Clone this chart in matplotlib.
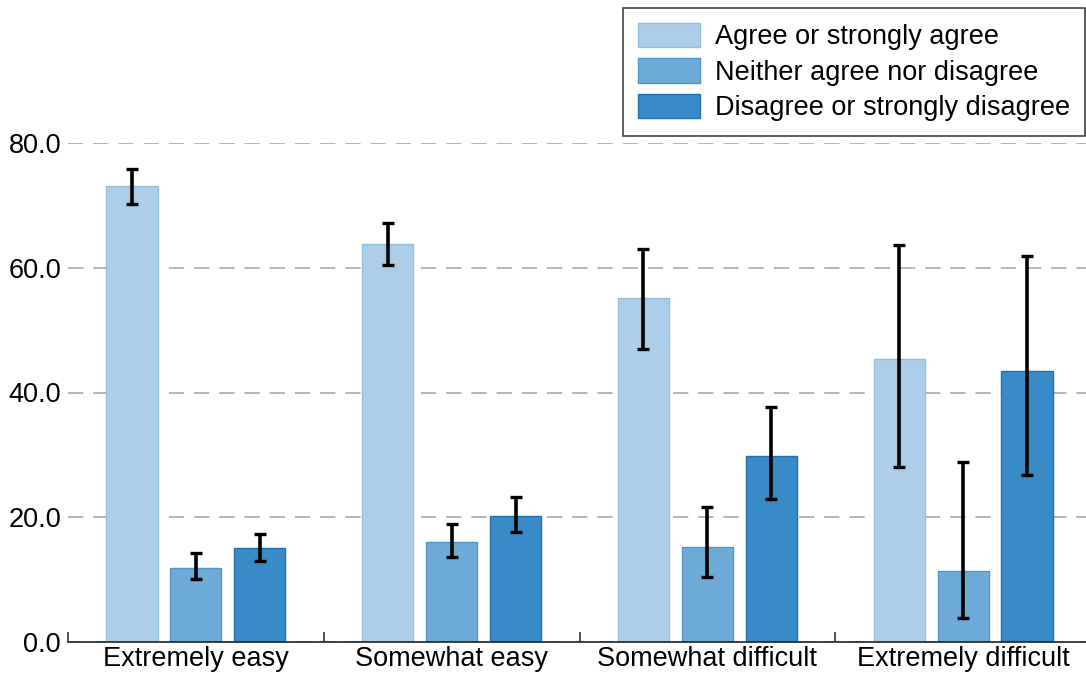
import numpy as np
import matplotlib.pyplot as plt

plt.rcParams['font.family'] = ['Liberation Sans', 'DejaVu Sans']

categories = ['Extremely easy', 'Somewhat easy', 'Somewhat difficult', 'Extremely difficult']
responses = ['Agree or strongly agree', 'Neither agree nor disagree', 'Disagree or strongly disagree']

# mean percentages per response, one list per response group
agree = [73.1, 63.8, 55.1, 45.4]
neither = [11.9, 16.0, 15.2, 11.4]
disagree = [15.0, 20.2, 29.8, 43.4]

# confidence interval bounds (low, high)
agree_lo = [70.3, 60.4, 46.9, 28.1]
agree_hi = [75.8, 67.2, 63.0, 63.6]
neither_lo = [10.1, 13.6, 10.4, 3.9]
neither_hi = [14.2, 18.9, 21.6, 28.9]
disagree_lo = [13.0, 17.6, 23.0, 26.7]
disagree_hi = [17.3, 23.2, 37.6, 61.9]

colors = ['#abcde7', '#6dabd6', '#388bc6']
edges = ['#8fbfe2', '#4e97cc', '#1f70b4']

fig = plt.figure(figsize=(10.86, 6.77), dpi=100)
ax = fig.add_axes([68 / 1086, 35 / 677, 1023 / 1086, 499 / 677])

x = np.arange(len(categories))
width = 0.2
offsets = [-0.25, 0.0, 0.25]
series = [(agree, agree_lo, agree_hi), (neither, neither_lo, neither_hi),
          (disagree, disagree_lo, disagree_hi)]

for i, (vals, lo, hi) in enumerate(series):
    vals = np.array(vals)
    err = np.vstack([vals - np.array(lo), np.array(hi) - vals])
    ax.bar(x + offsets[i], vals, width, color=colors[i], edgecolor=edges[i],
           linewidth=1.0, label=responses[i], zorder=2)
    ax.errorbar(x + offsets[i], vals, yerr=err, fmt='none', ecolor='black',
                elinewidth=2.6, capsize=4.3, capthick=2.4, zorder=3)

ax.set_xlim(-0.5, 3.5)
ax.set_ylim(0, 80)
ax.set_yticks([0, 20, 40, 60, 80])
ax.set_yticklabels(['%.1f' % v for v in [0, 20, 40, 60, 80]])
ax.yaxis.grid(True, linestyle=(0, (10, 6.5)), color='#a0a0a0', linewidth=1.1, zorder=0)
ax.set_axisbelow(True)

ax.set_xticks(x)
ax.set_xticklabels(categories)
ax.set_xticks([-0.5, 0.5, 1.5, 2.5], minor=True)
ax.tick_params(axis='x', which='major', length=0, labelsize=19.5, pad=3)
ax.tick_params(axis='x', which='minor', direction='in', length=7, width=1.2, color='#333333')
ax.tick_params(axis='y', length=0, labelsize=19.5, pad=5)

for side in ['top', 'right', 'left']:
    ax.spines[side].set_visible(False)
ax.spines['bottom'].set_linewidth(1.2)
ax.spines['bottom'].set_color('#222222')

leg = fig.legend(loc='upper right', bbox_to_anchor=(1085 / 1086, 1 - 8 / 677),
                 fontsize=19.5, frameon=True, fancybox=False, edgecolor='black',
                 handlelength=2.3, handleheight=1.0, labelspacing=0.3,
                 borderpad=0.55, handletextpad=0.55, borderaxespad=0)
leg.get_frame().set_linewidth(1.1)

fig.savefig('out.png', dpi=100)
